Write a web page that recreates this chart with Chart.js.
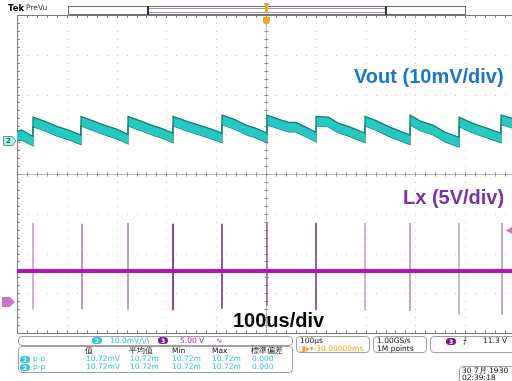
<!DOCTYPE html>
<html>
<head>
<meta charset="utf-8">
<script src="https://cdn.jsdelivr.net/npm/chart.js@4/dist/chart.umd.min.js"></script>
<style>
html,body{margin:0;padding:0;background:#fff;width:512px;height:381px;overflow:hidden;position:relative;font-family:"Liberation Sans",Arial,sans-serif}
#wrap{position:absolute;left:0;top:0;width:520px;height:381px}
.lbl{position:absolute;white-space:nowrap;font-weight:bold;font-size:20px;line-height:20px}
.s{position:absolute;white-space:nowrap;font-family:"DejaVu Sans",sans-serif;font-size:7.5px;line-height:8px;color:#111}
.c{color:#34c3dc}
.p{color:#a21fa6}
.o{color:#eba21c}
.box{position:absolute;border:1px solid #a0a0a0;border-radius:4px;box-sizing:border-box;background:#fff}
.badge{position:absolute;width:10px;height:7px;border-radius:4px;color:#fff;font-family:"DejaVu Sans",sans-serif;font-size:6px;line-height:7px;text-align:center;font-weight:bold}
</style>
</head>
<body>
<div id="wrap"><canvas id="scope" width="520" height="381"></canvas></div>

<!-- header -->
<div class="s" style="left:8px;top:4px;font-size:8.5px;font-weight:bold;color:#000">Tek</div>
<div class="s" style="left:26px;top:4px;font-size:7.5px;color:#333">PreVu</div>

<!-- channel annotations -->
<div class="lbl" style="left:354px;top:66px;color:#1a77c8">Vout (10mV/div)</div>
<div class="lbl" style="left:403px;top:187px;color:#7434a4">Lx (5V/div)</div>
<div class="lbl" style="left:233px;top:310px;color:#000">100us/div</div>

<!-- status bar -->
<div class="box" style="left:18px;top:336px;width:275px;height:10px"></div>
<div class="badge" style="left:92px;top:337px;background:#34c3dc">2</div>
<div class="s c" style="left:110px;top:337px">10.0mV/\/\</div>
<div class="badge" style="left:158px;top:337px;background:#7a1a82">3</div>
<div class="s p" style="left:180px;top:337px">5.00 V</div>
<div class="s p" style="left:216px;top:337px">∿</div>

<div class="box" style="left:18px;top:346px;width:275px;height:27px"></div>
<div class="s" style="left:85px;top:347px">值</div>
<div class="s" style="left:129px;top:347px">平均值</div>
<div class="s" style="left:172px;top:347px">Min</div>
<div class="s" style="left:212px;top:347px">Max</div>
<div class="s" style="left:251px;top:347px">標準偏差</div>

<div class="badge" style="left:20px;top:356px;background:#34c3dc">2</div>
<div class="s c" style="left:33px;top:355px">p-p</div>
<div class="s c" style="left:86px;top:355px">10.72mV</div>
<div class="s c" style="left:130px;top:355px">10.72m</div>
<div class="s c" style="left:172px;top:355px">10.72m</div>
<div class="s c" style="left:212px;top:355px">10.72m</div>
<div class="s c" style="left:252px;top:355px">0.000</div>

<div class="badge" style="left:20px;top:364px;background:#34c3dc">2</div>
<div class="s c" style="left:33px;top:363px">p-p</div>
<div class="s c" style="left:86px;top:363px">10.72mV</div>
<div class="s c" style="left:130px;top:363px">10.72m</div>
<div class="s c" style="left:172px;top:363px">10.72m</div>
<div class="s c" style="left:212px;top:363px">10.72m</div>
<div class="s c" style="left:252px;top:363px">0.000</div>

<div class="box" style="left:296px;top:336px;width:74px;height:17px"></div>
<div class="s" style="left:300px;top:337px">100µs</div>
<div class="s o" style="left:299px;top:345px">◨▸▾-30.00000ms</div>

<div class="box" style="left:373px;top:336px;width:54px;height:17px"></div>
<div class="s" style="left:377px;top:337px">1.00GS/s</div>
<div class="s" style="left:377px;top:345px">1M points</div>

<div class="box" style="left:430px;top:336px;width:90px;height:17px"></div>
<div class="badge" style="left:446px;top:338px;background:#7a1a82">3</div>
<div class="s" style="left:463px;top:337px">⨍</div>
<div class="s" style="left:483px;top:337px">11.3 V</div>

<div class="box" style="left:459px;top:366px;width:60px;height:18px"></div>
<div class="s" style="left:462px;top:367px">30 7月  1930</div>
<div class="s" style="left:462px;top:374px">02:39:18</div>

<script>
// ---- time base (µs) and channel setup ----
const timeSpan = [0, 1000];          // 10 div x 100 µs
const ch2Scale = 10;                 // mV/div
const ch2Offset = 0.83;              // ground marker, div above centre
const ch3Scale = 5;                  // V/div
const ch3Offset = -3.22;             // ground marker, div below centre

// ---- Ch2: Vout ripple envelope (mV) ----
const voutTime = [0,10,20,32, 32.2,55,80,105,128.4, 128.6,150,175,200,222.8, 223,245,270,290,313.2,
  313.4,340,365,390,411.5, 411.7,435,460,480,501.9, 502.1,525,545,560,580,600.3,
  600.5,625,645,665,698.7, 698.9,720,745,765,789.1, 789.3,810,835,860,887.5,
  887.7,905,925,945,960,971.8, 972,1000];
const voutHigh = [2.5,2.7,2.0,1.2, 6.0,5.0,3.7,2.7,1.5, 6.2,5.2,4.0,3.0,1.7, 6.2,5.2,4.0,3.2,2.0,
  6.2,5.0,4.0,3.0,2.0, 6.5,5.5,4.0,3.2,2.0, 6.5,5.5,4.7,4.7,3.5,2.2,
  6.2,6.0,4.5,3.7,2.0, 6.2,5.2,3.7,2.7,1.5, 6.5,5.0,4.0,2.2,0.9,
  6.0,5.0,4.0,3.2,2.5,2.0, 6.5,5.5];
const voutLow = [0.1,0.3,-0.4,-1.2, 3.6,2.6,1.3,0.3,-0.9, 3.8,2.8,1.6,0.6,-0.7, 3.8,2.8,1.6,0.8,-0.4,
  3.8,2.6,1.6,0.6,-0.4, 4.1,3.1,1.6,0.8,-0.4, 4.1,3.1,2.3,2.3,1.1,-0.2,
  3.8,3.6,2.1,1.3,-0.4, 3.8,2.8,1.3,0.3,-0.9, 4.1,2.6,1.6,-0.2,-1.5,
  3.6,2.6,1.6,0.8,0.1,-0.4, 4.1,3.1];

// ---- Ch3: Lx switch node (V) ----
const lxBaseTime = [0, 1000];
const lxBaseVolts = [3.9, 3.9];
const lxSpikeTime = [32.1, 130.5, 222.9, 313.3, 411.6, 502.0, 600.4, 698.8, 789.2, 887.6, 973.9];
const lxSpikeHigh = [9.9, 9.8, 9.9, 9.8, 9.8, 9.9, 9.9, 9.9, 9.9, 9.9, 9.9];
const lxSpikeLow  = [-0.9, -0.9, -0.9, -1.0, -0.8, -0.4, -1.0, -1.0, -1.1, -1.6, -1.6];
const lxSpikeColors = ['#c4a2cb','#ab88b1','#b08ab6','#6a2a72','#7a3c80','#9a6ca0','#7d4084','#c2a6c8','#b797bd','#c0afc3','#b49bb9'];

const pts = (xs, ys) => xs.map((x, i) => ({x, y: ys[i]}));

// graticule: dotted divisions, centre cross and border with minor ticks
const graticule = {
  id: 'graticule',
  beforeDatasetsDraw(chart) {
    const {ctx, chartArea: a, scales} = chart;
    const xs = scales.x, ys = scales.yDiv;
    ctx.save();
    ctx.fillStyle = '#c4c4c4';
    for (let i = 1; i < 10; i++) {
      if (i === 5) continue;
      const px = Math.round(xs.getPixelForValue(i * 100));
      for (let j = -20; j <= 20; j++) {
        const py = Math.round(ys.getPixelForValue(j / 5));
        ctx.fillRect(px, py, 1, 1);
      }
    }
    for (let j = -3; j <= 3; j++) {
      if (j === 0) continue;
      const py = Math.round(ys.getPixelForValue(j));
      for (let i = 0; i <= 50; i++) {
        const px = Math.round(xs.getPixelForValue(i * 20));
        ctx.fillRect(px, py, 1, 1);
      }
    }
    // centre cross
    const cx = Math.round(xs.getPixelForValue(500)) + 0.5;
    const cy = Math.round(ys.getPixelForValue(0)) + 0.5;
    ctx.strokeStyle = '#b8b8b8';
    ctx.lineWidth = 1;
    ctx.beginPath();
    ctx.moveTo(cx, a.top); ctx.lineTo(cx, a.bottom);
    ctx.moveTo(a.left, cy); ctx.lineTo(a.right, cy);
    ctx.stroke();
    ctx.strokeStyle = '#8c8c8c';
    ctx.beginPath();
    for (let i = 1; i < 50; i++) {
      const px = Math.round(xs.getPixelForValue(i * 20)) + 0.5;
      ctx.moveTo(px, cy - 2); ctx.lineTo(px, cy + 2);
      ctx.moveTo(px, a.top); ctx.lineTo(px, a.top + 3);
      ctx.moveTo(px, a.bottom); ctx.lineTo(px, a.bottom - 3);
    }
    for (let j = -19; j < 20; j++) {
      const py = Math.round(ys.getPixelForValue(j / 5)) + 0.5;
      ctx.moveTo(cx - 2, py); ctx.lineTo(cx + 2, py);
      ctx.moveTo(a.left, py); ctx.lineTo(a.left + 3, py);
    }
    ctx.stroke();
    ctx.strokeStyle = '#7a7a7a';
    ctx.strokeRect(Math.round(a.left) + 0.5, Math.round(a.top) + 0.5, Math.round(a.right - a.left), Math.round(a.bottom - a.top));
    ctx.restore();
  },
  afterDatasetsDraw(chart) {
    const {ctx, scales} = chart;
    ctx.save();
    // record view bar
    const x0 = scales.x.getPixelForValue(102), x1 = scales.x.getPixelForValue(900);
    const w0 = scales.x.getPixelForValue(263), w1 = scales.x.getPixelForValue(741);
    ctx.strokeStyle = '#6e6e6e'; ctx.lineWidth = 1;
    ctx.strokeRect(Math.round(x0) + 0.5, 6.5, Math.round(x1 - x0), 8);
    ctx.strokeStyle = '#a58cc4';
    ctx.beginPath();
    ctx.moveTo(w0, 8.5); ctx.lineTo(w1, 8.5);
    ctx.moveTo(w0, 12.5); ctx.lineTo(w1, 12.5);
    ctx.stroke();
    ctx.fillStyle = '#333';
    ctx.fillRect(Math.round(w0) - 1, 6, 2, 9);
    ctx.fillRect(Math.round(w1) - 1, 6, 2, 9);
    // trigger position marker
    const tx = Math.round(scales.x.getPixelForValue(500));
    ctx.fillStyle = '#f0a624';
    ctx.fillRect(tx - 2, 3, 5, 2);
    ctx.fillRect(tx - 1, 3, 3, 10);
    ctx.beginPath();
    ctx.moveTo(tx - 3, 17); ctx.lineTo(tx + 4, 17); ctx.lineTo(tx + 4, 22);
    ctx.lineTo(tx + 0.5, 25); ctx.lineTo(tx - 3, 22); ctx.closePath();
    ctx.fill();
    // Ch2 ground marker
    const g2 = Math.round(scales.y.getPixelForValue(0));
    ctx.fillStyle = '#bfe9e4';
    ctx.strokeStyle = '#3aa79c';
    ctx.beginPath();
    ctx.moveTo(3.5, g2 - 4.5); ctx.lineTo(12.5, g2 - 4.5); ctx.lineTo(16, g2);
    ctx.lineTo(12.5, g2 + 4.5); ctx.lineTo(3.5, g2 + 4.5); ctx.closePath();
    ctx.fill(); ctx.stroke();
    ctx.fillStyle = '#1d6f66';
    ctx.font = 'bold 7px "DejaVu Sans"';
    ctx.textAlign = 'center'; ctx.textBaseline = 'middle';
    ctx.fillText('2', 8.5, g2 + 0.5);
    // Ch3 ground marker
    const g3 = Math.round(scales.y2.getPixelForValue(0));
    ctx.fillStyle = '#c675c9';
    ctx.beginPath();
    ctx.moveTo(2, g3 - 5); ctx.lineTo(10, g3 - 5); ctx.lineTo(15, g3);
    ctx.lineTo(10, g3 + 5); ctx.lineTo(2, g3 + 5); ctx.closePath();
    ctx.fill();
    // Ch3 trigger level marker (right edge)
    const tl = scales.y2.getPixelForValue(9.0);
    ctx.beginPath();
    ctx.moveTo(506, tl); ctx.lineTo(512, tl - 3.5); ctx.lineTo(512, tl + 3.5); ctx.closePath();
    ctx.fill();
    ctx.restore();
  }
};

new Chart(document.getElementById('scope'), {
  type: 'line',
  data: {
    datasets: [
      {
        label: 'Vout',
        data: pts(voutTime, voutHigh),
        yAxisID: 'y',
        borderColor: '#137b70',
        borderWidth: 1.3,
        backgroundColor: '#25c9c1',
        fill: '+1',
        pointRadius: 0,
        tension: 0,
        order: 1
      },
      {
        label: 'Vout low',
        data: pts(voutTime, voutLow),
        yAxisID: 'y',
        borderColor: '#137b70',
        borderWidth: 1.3,
        fill: false,
        pointRadius: 0,
        tension: 0,
        order: 1
      },
      {
        label: 'Lx',
        data: pts(lxBaseTime, lxBaseVolts),
        yAxisID: 'y2',
        borderColor: '#b313b3',
        borderWidth: 4,
        fill: false,
        pointRadius: 0,
        order: 2
      },
      {
        type: 'bar',
        label: 'Lx edges',
        data: lxSpikeTime.map((t, i) => ({x: t, y: [lxSpikeLow[i], lxSpikeHigh[i]]})),
        yAxisID: 'y2',
        backgroundColor: lxSpikeColors,
        barThickness: 1,
        grouped: false,
        order: 3
      }
    ]
  },
  options: {
    responsive: false,
    animation: false,
    events: [],
    layout: {padding: {left: 17, top: 15, right: 5, bottom: 48}},
    plugins: {legend: {display: false}, tooltip: {enabled: false}},
    scales: {
      x: {type: 'linear', min: timeSpan[0], max: timeSpan[1], offset: false, display: false},
      y: {type: 'linear', min: -(4 + ch2Offset) * ch2Scale, max: (4 - ch2Offset) * ch2Scale, display: false},
      y2: {type: 'linear', min: -(4 + ch3Offset) * ch3Scale, max: (4 - ch3Offset) * ch3Scale, display: false},
      yDiv: {type: 'linear', min: -4, max: 4, display: false}
    }
  },
  plugins: [graticule]
});
</script>
</body>
</html>
